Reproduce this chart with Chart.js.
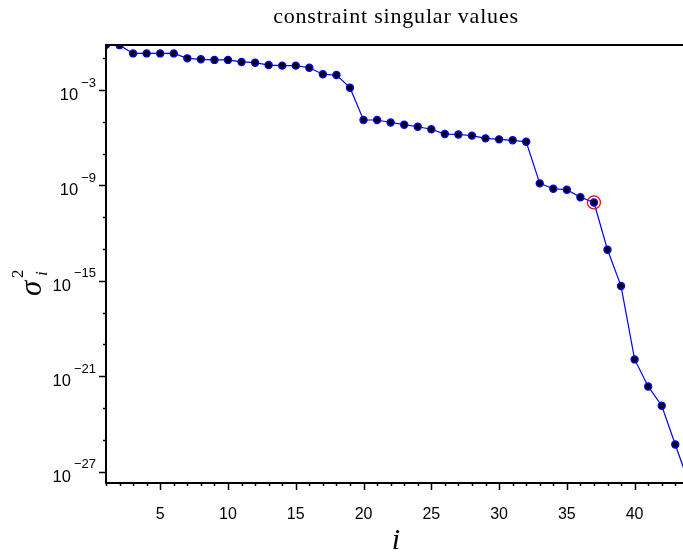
<!DOCTYPE html>
<html>
<head>
<meta charset="utf-8">
<script src="https://cdn.jsdelivr.net/npm/chart.js@4.4.0/dist/chart.umd.min.js"></script>
<style>
html, body { margin: 0; padding: 0; background: #fff; }
#wrap { width: 683px; height: 554px; }
</style>
</head>
<body>
<div id="wrap"><canvas id="chart-area" width="683" height="554"></canvas></div>
<script>
// index i and constraint singular values sigma_i^2
var idx = [1, 2, 3, 4, 5, 6, 7, 8, 9, 10, 11, 12, 13, 14, 15, 16, 17, 18, 19, 20, 21, 22,
           23, 24, 25, 26, 27, 28, 29, 30, 31, 32, 33, 34, 35, 36, 37, 38, 39, 40, 41, 42, 43, 44];
var sigma2 = [7.0e-1, 6.6e-1, 2.0e-1, 2.0e-1, 2.0e-1, 2.0e-1, 9.8e-2, 8.5e-2, 7.8e-2, 7.8e-2,
              5.8e-2, 5.2e-2, 3.7e-2, 3.4e-2, 3.4e-2, 2.5e-2, 9.8e-3, 8.7e-3, 1.4e-3, 1.3e-5,
              1.3e-5, 9.1e-6, 6.6e-6, 4.9e-6, 3.4e-6, 1.7e-6, 1.6e-6, 1.35e-6, 9.1e-7, 7.9e-7,
              6.9e-7, 5.6e-7, 1.35e-9, 6.2e-10, 5.4e-10, 1.8e-10, 8.5e-11, 9.1e-14, 4.7e-16, 1.15e-20,
              2.3e-22, 1.4e-23, 5.1e-26, 2.0e-28];
var markIdx = [37];
var xLabelVals = [5, 10, 15, 20, 25, 30, 35, 40];
var yTickExps = [-1, -3, -5, -7, -9, -11, -13, -15, -17, -19, -21, -23, -25, -27];
var yLabelExps = [-3, -9, -15, -21, -27];
var xMin = 1, xMax = 43.57;
var yMin = Math.pow(10, -27.71), yMax = Math.pow(10, -0.17);

var lineData = [];
for (var k = 0; k < idx.length; k++) {
    lineData.push({x: idx[k], y: sigma2[k]});
}
var markData = [];
for (var m = 0; m < markIdx.length; m++) {
    markData.push({x: markIdx[m], y: sigma2[markIdx[m] - 1]});
}

var sans = '"Liberation Sans", Arial, sans-serif';
var serif = '"Liberation Serif", "Times New Roman", serif';

var axisDeco = {
    id: 'axisDeco',
    afterDraw: function(chart) {
        var ctx = chart.ctx, a = chart.chartArea;
        var xs = chart.scales.x, ys = chart.scales.y;
        ctx.save();
        ctx.strokeStyle = '#000';
        ctx.lineCap = 'butt';

        // tick marks
        ctx.lineWidth = 1.5;
        ctx.beginPath();
        for (var v = Math.ceil(xMin); v <= xMax; v++) {
            var px = Math.round(xs.getPixelForValue(v)) + 0.5;
            var len = (xLabelVals.indexOf(v) >= 0) ? 7 : 3;
            ctx.moveTo(px, a.bottom);
            ctx.lineTo(px, a.bottom + len);
        }
        for (var i = 0; i < yTickExps.length; i++) {
            var py = Math.round(ys.getPixelForValue(Math.pow(10, yTickExps[i]))) + 0.5;
            var ylen = (yLabelExps.indexOf(yTickExps[i]) >= 0) ? 7 : 3;
            ctx.moveTo(a.left - ylen, py);
            ctx.lineTo(a.left, py);
        }
        ctx.stroke();

        // axis lines (left, bottom, top)
        ctx.lineWidth = 2;
        ctx.beginPath();
        ctx.moveTo(a.left, a.top);
        ctx.lineTo(a.left, a.bottom + 1);
        ctx.moveTo(a.left - 1, a.bottom);
        ctx.lineTo(a.right, a.bottom);
        ctx.moveTo(a.left - 1, a.top);
        ctx.lineTo(a.right, a.top);
        ctx.stroke();

        // y tick labels 10^e
        ctx.fillStyle = '#000';
        ctx.textBaseline = 'alphabetic';
        for (var j = 0; j < yLabelExps.length; j++) {
            var ty = ys.getPixelForValue(Math.pow(10, yLabelExps[j]));
            ctx.textAlign = 'right';
            ctx.font = '13px ' + sans;
            var sup = '\u2212' + Math.abs(yLabelExps[j]);
            ctx.fillText(sup, 96, ty - 3.5);
            var sw = ctx.measureText(sup).width;
            ctx.font = '16.5px ' + sans;
            ctx.fillText('10', 96 - sw - 3, ty + 10);
        }

        // title
        ctx.textAlign = 'center';
        ctx.font = '22px ' + serif;
        var title = 'constraint singular values';
        var w = ctx.measureText(title).width;
        if ('letterSpacing' in ctx && w < 262) {
            ctx.letterSpacing = Math.min(0.8, (262 - w) / (title.length - 1)).toFixed(2) + 'px';
        }
        ctx.fillText(title, 396, 23);
        if ('letterSpacing' in ctx) ctx.letterSpacing = '0px';

        // x axis title
        ctx.font = 'italic 30px ' + serif;
        ctx.fillText('i', 396, 549);

        // y axis title sigma_i^2
        ctx.translate(41, 296);
        ctx.rotate(-Math.PI / 2);
        ctx.textAlign = 'left';
        ctx.font = 'italic 31px ' + serif;
        ctx.fillText('\u03c3', 0, 0);
        ctx.font = '17px ' + serif;
        ctx.fillText('2', 18, -18);
        ctx.font = 'italic 17px ' + serif;
        ctx.fillText('i', 20, 6);
        ctx.restore();
    }
};

var ctx = document.getElementById('chart-area').getContext('2d');
var myChart = new Chart(ctx, {
    type: 'line',
    data: {
        datasets: [
            {
                label: 'marked',
                data: markData,
                showLine: false,
                pointRadius: 6.5,
                pointBorderWidth: 1.3,
                pointBorderColor: '#ff0000',
                pointBackgroundColor: 'rgba(0,0,0,0)',
                order: 0
            },
            {
                label: 'sigma2',
                data: lineData,
                borderColor: '#0000ff',
                borderWidth: 1.2,
                tension: 0,
                fill: false,
                pointRadius: 3.5,
                pointBorderWidth: 1.4,
                pointBorderColor: '#0000ff',
                pointBackgroundColor: '#000000',
                order: 1
            }
        ]
    },
    options: {
        responsive: false,
        animation: false,
        events: [],
        layout: { autoPadding: false, padding: { top: 45, left: 0, right: 0, bottom: 0 } },
        plugins: {
            legend: { display: false },
            title: { display: false },
            tooltip: { enabled: false }
        },
        scales: {
            x: {
                type: 'linear',
                min: xMin,
                max: xMax,
                bounds: 'data',
                grid: { display: false },
                border: { display: false },
                ticks: {
                    stepSize: 1,
                    autoSkip: false,
                    maxRotation: 0,
                    padding: 14,
                    color: '#000',
                    font: { family: sans, size: 16 },
                    callback: function(value) {
                        return xLabelVals.indexOf(value) >= 0 ? String(value) : '';
                    }
                },
                afterFit: function(scale) {
                    scale.height = 71;
                    scale.paddingLeft = 0;
                    scale.paddingRight = 0;
                }
            },
            y: {
                type: 'logarithmic',
                min: yMin,
                max: yMax,
                grid: { display: false },
                border: { display: false },
                ticks: {
                    callback: function() { return ''; }
                },
                afterBuildTicks: function(scale) {
                    scale.ticks = yTickExps.map(function(e) { return {value: Math.pow(10, e)}; });
                },
                afterFit: function(scale) {
                    scale.width = 106;
                    scale.paddingTop = 0;
                    scale.paddingBottom = 0;
                }
            }
        }
    },
    plugins: [axisDeco]
});
</script>
</body>
</html>
